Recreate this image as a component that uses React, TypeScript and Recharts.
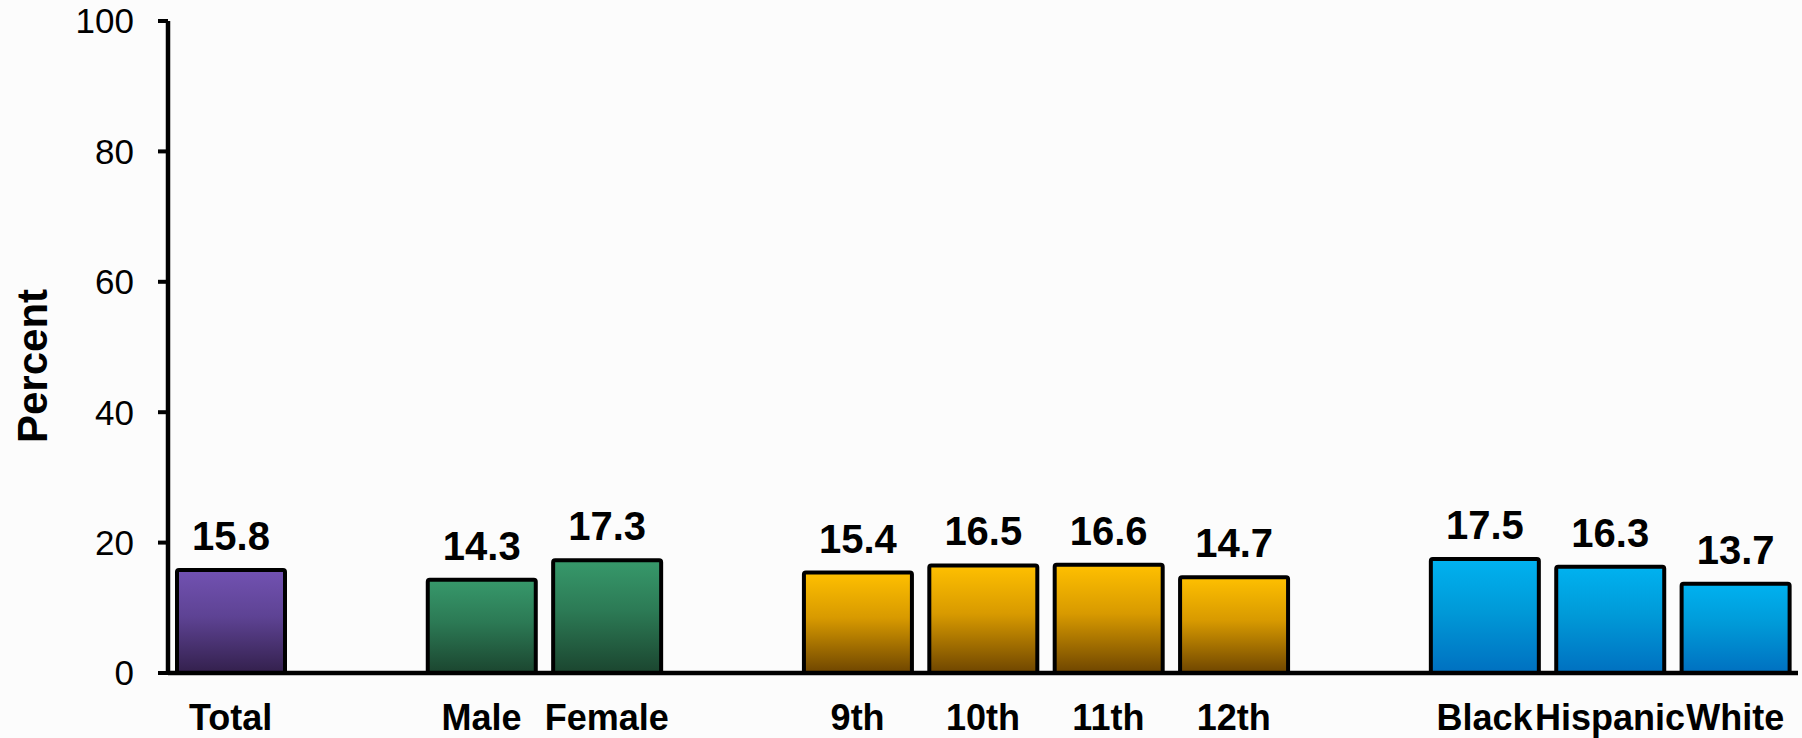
import React from "react";
import { BarChart, Bar, XAxis, YAxis, Cell, LabelList, Label } from "recharts";

const categories = ["Total", "", "Male", "Female", "", "9th", "10th", "11th", "12th", "", "Black", "Hispanic", "White"];
const values: (number | null)[] = [15.8, null, 14.3, 17.3, null, 15.4, 16.5, 16.6, 14.7, null, 17.5, 16.3, 13.7];
const groups = ["total", "", "sex", "sex", "", "grade", "grade", "grade", "grade", "", "race", "race", "race"];
const yTicks = [0, 20, 40, 60, 80, 100];

const gradients: Record<string, [string, string, string]> = {
  total: ["#7252b2", "#5e4394", "#33204c"],
  sex: ["#37996b", "#2c7a55", "#1b452f"],
  grade: ["#ffc000", "#d89a00", "#6e4500"],
  race: ["#00b2f0", "#009ad8", "#0070c0"],
};

const data = categories.map((name, i) => ({ id: `c${i}`, name, value: values[i], group: groups[i] }));

const FONT = '"Liberation Sans", Arial, Helvetica, sans-serif';

const XTick = (props: any) => {
  const { x, y, payload } = props;
  const label = categories[payload.index] ?? "";
  return (
    <text x={x} y={y + 57} textAnchor="middle" fontFamily={FONT} fontWeight="bold" fontSize={36} fill="#000">
      {label}
    </text>
  );
};

const ValueLabel = (props: any) => {
  const { x, y, width, value } = props;
  if (value === null || value === undefined) return null;
  return (
    <text x={x + width / 2} y={y - 20} textAnchor="middle" fontFamily={FONT} fontWeight="bold" fontSize={40} fill="#000">
      {Number(value).toFixed(1)}
    </text>
  );
};

export default function App() {
  return (
    <div style={{ position: "absolute", left: 0, top: 0, width: 1802, height: 738, background: "#fcfcfc" }}>
      <BarChart
        width={1802}
        height={738}
        data={data}
        margin={{ top: 21, right: 4, bottom: 0, left: 0 }}
        barSize={108}
      >
        <defs>
          {Object.entries(gradients).map(([k, c]) => (
            <linearGradient key={k} id={`grad-${k}`} x1="0" y1="0" x2="0" y2="1">
              <stop offset="0%" stopColor={c[0]} />
              <stop offset="45%" stopColor={c[1]} />
              <stop offset="100%" stopColor={c[2]} />
            </linearGradient>
          ))}
        </defs>
        <XAxis
          dataKey="id"
          height={65}
          tickSize={0}
          tickMargin={0}
          interval={0}
          tick={<XTick />}
          axisLine={{ stroke: "#000", strokeWidth: 4.5 }}
          tickLine={false}
        />
        <YAxis
          width={168}
          domain={[0, 100]}
          ticks={yTicks}
          interval={0}
          tickSize={10}
          tickMargin={24}
          axisLine={{ stroke: "#000", strokeWidth: 4.5 }}
          tickLine={{ stroke: "#000", strokeWidth: 4 }}
          tick={{ fontFamily: FONT, fontSize: 35, fill: "#000" }}
        >
          <Label
            content={() => (
              <text
                transform="translate(47,366) rotate(-90)"
                textAnchor="middle"
                fontFamily={FONT}
                fontWeight="bold"
                fontSize={42}
                fill="#000"
              >
                Percent
              </text>
            )}
          />
        </YAxis>
        <Bar dataKey="value" isAnimationActive={false} stroke="#000" strokeWidth={4} radius={2}>
          {data.map((d) => (
            <Cell key={d.id} fill={d.group ? `url(#grad-${d.group})` : "none"} />
          ))}
          <LabelList dataKey="value" content={<ValueLabel />} />
        </Bar>
      </BarChart>
    </div>
  );
}
